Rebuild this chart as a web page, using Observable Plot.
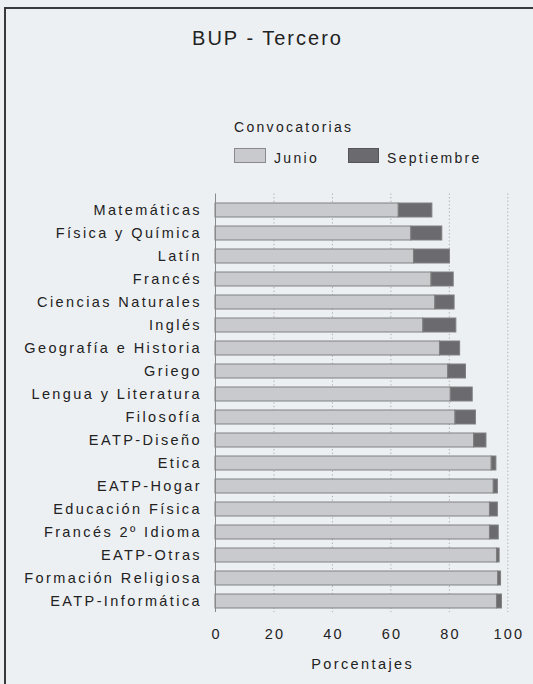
<!DOCTYPE html>
<html><head><meta charset="utf-8">
<script src="https://cdn.jsdelivr.net/npm/d3@7"></script>
<script src="https://cdn.jsdelivr.net/npm/@observablehq/plot@0.6"></script>
<style>
body{margin:0;background:#edf0f3;}
#wrap{position:relative;width:533px;height:684px;overflow:hidden;background:#edf0f3;font-family:"Liberation Sans",Arial,sans-serif;color:#222;}
#frame{position:absolute;left:4px;top:7px;width:560px;height:720px;border-left:2px solid #3a3a3a;border-top:2px solid #3a3a3a;}
#title{position:absolute;left:0;width:535px;top:28px;text-align:center;font-size:20px;line-height:20px;letter-spacing:2px;}
.lg{position:absolute;font-size:14px;line-height:14px;letter-spacing:2.3px;}
.sw{position:absolute;box-sizing:border-box;}
#chart{position:absolute;left:0;top:180px;}
#chart svg text{letter-spacing:2.4px;}
#chart svg g[aria-label="x-axis tick label"] text{letter-spacing:2.2px;}
</style></head>
<body>
<div id="wrap">
  <div id="frame"></div>
  <div id="title">BUP - Tercero</div>
  <div class="lg" style="left:234px;top:120px;">Convocatorias</div>
  <div class="sw" style="left:234px;top:148px;width:32px;height:15px;background:#c8cacd;border:1px solid #8a8a8a;"></div>
  <div class="lg" style="left:274px;top:151px;">Junio</div>
  <div class="sw" style="left:348px;top:148px;width:31px;height:15px;background:#6a6a6f;border:1px solid #555;"></div>
  <div class="lg" style="left:387px;top:151px;">Septiembre</div>
  <div id="chart"></div>
</div>
<script>
const materias = ["Matemáticas","Física y Química","Latín","Francés","Ciencias Naturales","Inglés","Geografía e Historia","Griego","Lengua y Literatura","Filosofía","EATP-Diseño","Etica","EATP-Hogar","Educación Física","Francés 2º Idioma","EATP-Otras","Formación Religiosa","EATP-Informática"];
const junio = [62.7, 67.0, 67.9, 73.9, 75.2, 71.1, 76.8, 79.6, 80.5, 82.1, 88.5, 94.5, 95.2, 93.9, 93.9, 96.3, 96.7, 96.3];
const septiembre = [11.5, 10.6, 12.3, 7.6, 6.6, 11.3, 6.9, 6.1, 7.5, 7.0, 4.2, 1.6, 1.4, 2.7, 3.0, 0.9, 1.0, 1.7];
const convocatorias = ["Junio", "Septiembre"];
const xTicks = [0, 20, 40, 60, 80, 100];

const rows = [];
materias.forEach((m, i) => {
  rows.push({materia: m, conv: "Junio", value: junio[i]});
  rows.push({materia: m, conv: "Septiembre", value: septiembre[i]});
});

const H = 504, top0 = 180;
const chart = Plot.plot({
  width: 533,
  height: H,
  marginLeft: 215,
  marginRight: 25.7,
  marginTop: 193.5 - top0,
  marginBottom: top0 + H - 612,
  style: {background: "transparent", fontFamily: "'Liberation Sans', Arial, sans-serif", color: "#222"},
  x: {domain: [0, 100], label: null},
  y: {domain: materias, paddingInner: 0.39, paddingOuter: 0.145, align: 0.7, label: null},
  color: {domain: convocatorias, range: ["#c8cacd", "#6a6a6f"]},
  marks: [
    Plot.gridX(xTicks.slice(1), {stroke: "#8a8a8a", strokeOpacity: 0.7, strokeDasharray: "1.2,2.4"}),
    Plot.barX(rows, Plot.stackX({x: "value", y: "materia", fill: "conv", stroke: "#808080", strokeWidth: 1, order: null})),
    Plot.ruleX([0], {stroke: "#8a8a8a"}),
    Plot.axisY({tickSize: 0, tickPadding: 13.5, fontSize: 14.5, label: null}),
    Plot.axisX(xTicks, {tickSize: 0, tickPadding: 16, fontSize: 14.5, dx: 1.1, label: null}),
    Plot.text(["Porcentajes"], {frameAnchor: "bottom", lineAnchor: "middle", dy: 51.5, dx: 1, fontSize: 14.5})
  ]
});
document.getElementById("chart").appendChild(chart);
</script>
</body></html>
